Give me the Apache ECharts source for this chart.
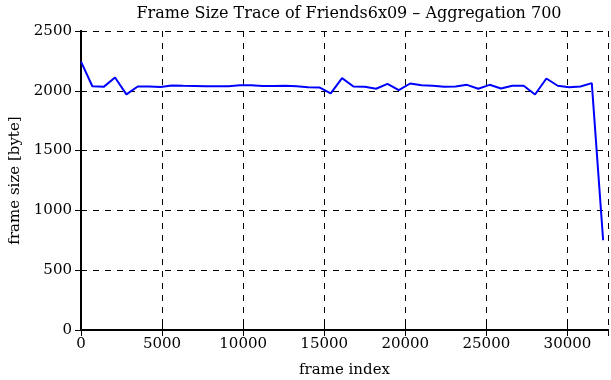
<!DOCTYPE html>
<html>
<head>
<meta charset="utf-8">
<script src="https://cdn.jsdelivr.net/npm/echarts@6/dist/echarts.min.js"></script>
<style>html,body{margin:0;padding:0;background:#fff}#c{width:611px;height:380px}</style>
</head>
<body>
<div id="c"></div>
<script>
var titleText = "Frame Size Trace of Friends6x09 \u2013 Aggregation 700";
var xName = "frame index";
var yName = "frame size [byte]";
var frameIndex = [0,700,1400,2100,2800,3500,4200,4900,5600,6300,7000,7700,8400,9100,9800,10500,11200,11900,12600,13300,14000,14700,15400,16100,16800,17500,18200,18900,19600,20300,21000,21700,22400,23100,23800,24500,25200,25900,26600,27300,28000,28700,29400,30100,30800,31500,32200];
var frameSize = [2244,2038,2033,2111,1970,2036,2036,2031,2045,2042,2040,2038,2038,2038,2047,2047,2040,2040,2042,2038,2030,2028,1978,2106,2036,2033,2017,2058,2005,2061,2047,2042,2033,2036,2050,2017,2050,2019,2042,2042,1969,2103,2042,2030,2036,2064,750];
var xTicks = [0,5000,10000,15000,20000,25000,30000];
var yTicks = [0,500,1000,1500,2000,2500];

var font = "DejaVu Serif";
var chart = echarts.init(document.getElementById('c'), null, {renderer:'canvas'});
var pts = frameIndex.map(function(x,i){return [x, frameSize[i]];});
var xMin = xTicks[0], xMax = 32500, xInt = xTicks[1]-xTicks[0];
var yMin = yTicks[0], yMax = yTicks[yTicks.length-1], yInt = yTicks[1]-yTicks[0];
var tick = {show:true, inside:true, length:6, lineStyle:{color:'#000', width:1}};
var fmt = function(v){return String(v);};
chart.setOption({
  animation:false,
  title:{text:titleText, left:344, textAlign:'center', top:1, textStyle:{fontFamily:font, fontSize:16, fontWeight:'normal', color:'#000'}},
  grid:{left:81, right:3, top:31, bottom:50, containLabel:false, outerBoundsMode:'none'},
  xAxis:[{
    type:'value', min:xMin, max:xMax, interval:xInt, position:'bottom',
    name:xName, nameLocation:'middle', nameGap:33,
    nameTextStyle:{fontFamily:font, fontSize:15, color:'#000'},
    axisLine:{show:true, lineStyle:{color:'#000', width:2}},
    axisTick:tick,
    axisLabel:{fontFamily:font, fontSize:15, color:'#000', margin:7, showMaxLabel:false, formatter:fmt},
    splitLine:{show:true, lineStyle:{color:'#000', type:[6,6], width:1}}
  },{
    type:'value', min:xMin, max:xMax, interval:xInt, position:'top',
    axisLine:{show:true, lineStyle:{color:'#000', width:2}},
    axisTick:tick, axisLabel:{show:false}, splitLine:{show:false}
  }],
  yAxis:[{
    type:'value', min:yMin, max:yMax, interval:yInt, position:'left',
    name:yName, nameLocation:'middle', nameGap:57, nameRotate:90,
    nameTextStyle:{fontFamily:font, fontSize:15, color:'#000'},
    axisLine:{show:true, lineStyle:{color:'#000', width:2}},
    axisTick:tick,
    axisLabel:{fontFamily:font, fontSize:15, color:'#000', margin:9, formatter:fmt},
    splitLine:{show:true, lineStyle:{color:'#000', type:[6,6], width:1}}
  },{
    type:'value', min:yMin, max:yMax, interval:yInt, position:'right',
    axisLine:{show:true, lineStyle:{color:'#000', width:2}},
    axisTick:tick, axisLabel:{show:false}, splitLine:{show:false}
  }],
  series:[{
    type:'line', data:pts, showSymbol:false, symbol:'none',
    lineStyle:{color:'#0000ff', width:2}, itemStyle:{color:'#0000ff'}, z:5
  }]
});
</script>
</body>
</html>
